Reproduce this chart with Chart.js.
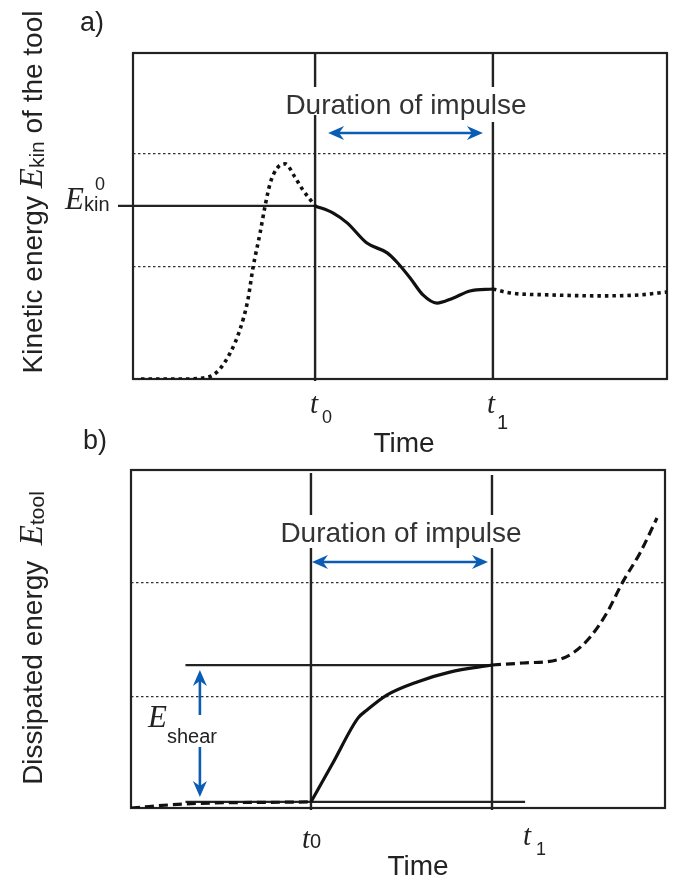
<!DOCTYPE html>
<html lang="en">
<head>
    <meta charset="UTF-8">
    <title>Kinetic and dissipated energy of the tool</title>
    <script src="https://cdn.jsdelivr.net/npm/chart.js"></script>
    <style>
        body { margin: 0; background: #fff; }
        canvas { position: absolute; left: 0; }
        #chartA { top: 0; }
        #chartB { top: 395px; }
    </style>
</head>
<body>
    <canvas id="chartA" width="676" height="470"></canvas>
    <canvas id="chartB" width="676" height="486"></canvas>
    <script>
        // a) kinetic energy of the tool (time and energy in % of the axis range)
        var kinTimeRise = [1.5, 8.8, 13.1, 15.7, 18.2, 20.0, 21.5, 22.5, 23.8, 24.7, 25.7, 27.0, 28.5, 30.3, 31.8, 34.1];
        var kinRise = [0, 0, 0.3, 2.1, 8.0, 15.0, 24.2, 34.4, 44.8, 52.8, 60.1, 64.7, 66.0, 62.0, 58.0, 53.1];
        var kinTimeImpulse = [34.1, 37.5, 40.1, 43.8, 47.6, 49.4, 51.9, 54.3, 56.9, 59.9, 63.1, 67.4];
        var kinImpulse = [53.1, 50.9, 47.9, 41.7, 38.7, 35.9, 31.0, 25.8, 23.3, 24.8, 27.0, 27.6];
        var kinTimeAfter = [67.4, 70.6, 78.1, 87.5, 94.9, 100];
        var kinAfter = [27.6, 26.4, 25.8, 25.5, 25.8, 26.7];
        var kinRefLevels = [34.4, 69.0];
        var kinT0 = 34.1, kinT1 = 67.4, kinE0 = 53.1;

        // b) dissipated energy
        var dissTimeBefore = [0, 10.1, 33.7];
        var dissBefore = [0, 1.2, 1.8];
        var dissTimeImpulse = [33.7, 37.8, 42.5, 44.2, 47.9, 53.6, 59.7, 67.6];
        var dissImpulse = [1.8, 13.3, 26.6, 29.0, 33.4, 37.3, 40.2, 42.3];
        var dissTimeAfter = [67.6, 73.4, 79.8, 82.8, 86.0, 89.1, 92.1, 95.3, 98.5];
        var dissAfter = [42.3, 42.9, 43.8, 45.9, 50.6, 57.7, 66.9, 75.4, 85.8];
        var dissRefLevels = [33.1, 66.6];
        var dissT0 = 33.7, dissT1 = 67.6;
        var shearTop = 42.3, shearBase = 1.8;
        var shearLevelStart = 10.2, shearBaseEnd = 73.8, shearArrowTime = 12.9;

        var SANS = '"Liberation Sans", Arial, sans-serif';
        var SERIF = '"Liberation Serif", "Times New Roman", serif';
        var INK = '#222';
        var BLUE = '#0a5db5';

        function points(xs, ys) {
            return xs.map(function (x, i) { return { x: x, y: ys[i] }; });
        }

        // draw a row of text pieces [text, font, dy] starting / centred at x
        function textRun(ctx, x, y, parts, align) {
            var total = 0;
            parts.forEach(function (p) { ctx.font = p[1]; total += ctx.measureText(p[0]).width; });
            var cx = align === 'center' ? x - total / 2 : (align === 'right' ? x - total : x);
            ctx.textAlign = 'left';
            ctx.textBaseline = 'alphabetic';
            parts.forEach(function (p) {
                ctx.font = p[1];
                ctx.fillText(p[0], cx, y + (p[2] || 0));
                cx += ctx.measureText(p[0]).width;
            });
        }

        function line(ctx, x1, y1, x2, y2, width, color) {
            ctx.save();
            ctx.strokeStyle = color || INK;
            ctx.lineWidth = width || 2;
            ctx.beginPath();
            ctx.moveTo(x1, y1);
            ctx.lineTo(x2, y2);
            ctx.stroke();
            ctx.restore();
        }

        function arrowHead(ctx, x, y, angle) {
            ctx.save();
            ctx.translate(x, y);
            ctx.rotate(angle);
            ctx.fillStyle = BLUE;
            ctx.beginPath();
            ctx.moveTo(0, 0);
            ctx.lineTo(-16, -7);
            ctx.lineTo(-11, 0);
            ctx.lineTo(-16, 7);
            ctx.closePath();
            ctx.fill();
            ctx.restore();
        }

        function frame(chart) {
            var a = chart.chartArea, ctx = chart.ctx;
            ctx.save();
            ctx.strokeStyle = INK;
            ctx.lineWidth = 2.2;
            ctx.strokeRect(a.left, a.top, a.right - a.left, a.bottom - a.top);
            ctx.restore();
        }

        function verticalWithGap(ctx, x, top, bottom, gapTop, gapBottom) {
            line(ctx, x, top, x, gapTop, 2.4);
            line(ctx, x, gapBottom, x, bottom, 2.4);
        }

        function yTitle(ctx, x, y, parts) {
            ctx.save();
            ctx.translate(x, y);
            ctx.rotate(-Math.PI / 2);
            textRun(ctx, 0, 0, parts, 'center');
            ctx.restore();
        }

        function baseOptions(refLevels, pad) {
            return {
                responsive: false,
                animation: false,
                layout: { padding: pad },
                plugins: { legend: { display: false }, tooltip: { enabled: false } },
                elements: { point: { radius: 0 } },
                scales: {
                    x: { type: 'linear', min: 0, max: 100, display: false },
                    y: {
                        min: 0, max: 100,
                        afterBuildTicks: function (scale) {
                            scale.ticks = refLevels.map(function (v) { return { value: v }; });
                        },
                        ticks: { display: false },
                        grid: { drawTicks: false, color: '#333', lineWidth: 1.2 },
                        border: { display: false, dash: [2.5, 2.5] }
                    }
                }
            };
        }

        function curve(data, style) {
            var ds = {
                data: data,
                borderColor: '#111',
                borderWidth: 3.2,
                cubicInterpolationMode: 'monotone',
                fill: false
            };
            if (style === 'dotted') { ds.borderDash = [3.5, 4]; ds.borderWidth = 3.6; }
            if (style === 'dashed') { ds.borderDash = [9, 5]; }
            return ds;
        }

        // ---------- a) ----------
        var optsA = baseOptions(kinRefLevels, { left: 133, top: 53, right: 9, bottom: 91 });
        new Chart(document.getElementById('chartA'), {
            type: 'line',
            data: {
                datasets: [
                    curve(points(kinTimeRise, kinRise), 'dotted'),
                    curve(points(kinTimeImpulse, kinImpulse), 'solid'),
                    curve(points(kinTimeAfter, kinAfter), 'dotted')
                ]
            },
            options: optsA,
            plugins: [{
                id: 'panelA',
                beforeDatasetsDraw: function (chart) {
                    var ctx = chart.ctx, a = chart.chartArea, xs = chart.scales.x, ys = chart.scales.y;
                    var textBase = a.top + 61;
                    verticalWithGap(ctx, xs.getPixelForValue(kinT0), a.top, a.bottom + 2, textBase - 27, textBase + 1);
                    verticalWithGap(ctx, xs.getPixelForValue(kinT1), a.top, a.bottom + 1, textBase - 27, textBase + 8);
                    line(ctx, a.left - 15, ys.getPixelForValue(kinE0), xs.getPixelForValue(kinT0), ys.getPixelForValue(kinE0), 2.2);
                    frame(chart);
                },
                afterDatasetsDraw: function (chart) {
                    var ctx = chart.ctx, a = chart.chartArea, xs = chart.scales.x, ys = chart.scales.y;
                    var x0 = xs.getPixelForValue(kinT0), x1 = xs.getPixelForValue(kinT1);
                    ctx.save();
                    ctx.fillStyle = INK;
                    textRun(ctx, 80, a.top - 22, [['a)', '27px ' + SANS]], 'left');
                    yTitle(ctx, 42, (a.top + a.bottom) / 2 - 24, [
                        ['Kinetic energy ', '28px ' + SANS],
                        ['E', 'italic 33px ' + SERIF],
                        ['kin', '21px ' + SANS, 2],
                        [' of the tool', '28px ' + SANS]
                    ]);
                    var e0 = ys.getPixelForValue(kinE0);
                    textRun(ctx, 65, e0 + 3, [['E', 'italic 31px ' + SERIF]], 'left');
                    textRun(ctx, 84, e0 + 5, [['kin', '20px ' + SANS]], 'left');
                    textRun(ctx, 95, e0 - 16, [['0', '18px ' + SANS]], 'left');
                    textRun(ctx, x0 - 5, a.bottom + 34, [['t', 'italic 29px ' + SERIF]], 'left');
                    textRun(ctx, x0 + 7, a.bottom + 44, [['0', '18px ' + SANS]], 'left');
                    textRun(ctx, x1 - 6, a.bottom + 34, [['t', 'italic 29px ' + SERIF]], 'left');
                    textRun(ctx, x1 + 4, a.bottom + 50, [['1', '20px ' + SANS]], 'left');
                    textRun(ctx, 404, a.bottom + 73, [['Time', '28px ' + SANS]], 'center');
                    ctx.fillStyle = '#333';
                    textRun(ctx, 406, a.top + 61, [['Duration of impulse', '28px ' + SANS]], 'center');
                    var ay = a.top + 80;
                    line(ctx, x0 + 20, ay, x1 - 20, ay, 2.6, BLUE);
                    arrowHead(ctx, x0 + 13, ay, Math.PI);
                    arrowHead(ctx, x1 - 10, ay, 0);
                    ctx.restore();
                }
            }]
        });

        // ---------- b) ----------
        var optsB = baseOptions(dissRefLevels, { left: 131, top: 75, right: 11, bottom: 73 });
        new Chart(document.getElementById('chartB'), {
            type: 'line',
            data: {
                datasets: [
                    curve(points(dissTimeBefore, dissBefore), 'dashed'),
                    curve(points(dissTimeImpulse, dissImpulse), 'solid'),
                    curve(points(dissTimeAfter, dissAfter), 'dashed')
                ]
            },
            options: optsB,
            plugins: [{
                id: 'panelB',
                beforeDatasetsDraw: function (chart) {
                    var ctx = chart.ctx, a = chart.chartArea, xs = chart.scales.x, ys = chart.scales.y;
                    var textBase = a.top + 72;
                    verticalWithGap(ctx, xs.getPixelForValue(dissT0), a.top + 3, a.bottom + 2, textBase - 27, textBase + 6);
                    verticalWithGap(ctx, xs.getPixelForValue(dissT1), a.top + 5, a.bottom + 2, textBase - 27, textBase + 6);
                    var yt = ys.getPixelForValue(shearTop), yb = ys.getPixelForValue(shearBase);
                    line(ctx, xs.getPixelForValue(shearLevelStart), yt, xs.getPixelForValue(dissT1), yt, 2.2);
                    line(ctx, xs.getPixelForValue(shearLevelStart), yb, xs.getPixelForValue(shearBaseEnd), yb, 2.2);
                    frame(chart);
                },
                afterDatasetsDraw: function (chart) {
                    var ctx = chart.ctx, a = chart.chartArea, xs = chart.scales.x, ys = chart.scales.y;
                    var x0 = xs.getPixelForValue(dissT0), x1 = xs.getPixelForValue(dissT1);
                    ctx.save();
                    ctx.fillStyle = INK;
                    textRun(ctx, 83, a.top - 21, [['b)', '27px ' + SANS]], 'left');
                    yTitle(ctx, 42, (a.top + a.bottom) / 2 - 1, [
                        ['Dissipated energy  ', '28px ' + SANS],
                        ['E', 'italic 33px ' + SERIF],
                        ['tool', '21px ' + SANS, 2]
                    ]);
                    textRun(ctx, x0 - 9, a.bottom + 40, [['t', 'italic 29px ' + SERIF], ['0', '20px ' + SANS]], 'left');
                    textRun(ctx, x1 + 31, a.bottom + 37, [['t', 'italic 29px ' + SERIF]], 'left');
                    textRun(ctx, x1 + 44, a.bottom + 47, [['1', '18px ' + SANS]], 'left');
                    textRun(ctx, 418, a.bottom + 67, [['Time', '28px ' + SANS]], 'center');

                    var yt = ys.getPixelForValue(shearTop), yb = ys.getPixelForValue(shearBase);
                    textRun(ctx, a.left + 17, yt + 62, [['E', 'italic 31px ' + SERIF]], 'left');
                    textRun(ctx, a.left + 36, yt + 78, [['shear', '20px ' + SANS]], 'left');

                    ctx.fillStyle = '#333';
                    textRun(ctx, 401, a.top + 72, [['Duration of impulse', '28px ' + SANS]], 'center');

                    var ay = a.top + 92;
                    line(ctx, x0 + 10, ay, x1 - 14, ay, 2.6, BLUE);
                    arrowHead(ctx, x0 + 1, ay, Math.PI);
                    arrowHead(ctx, x1 - 4, ay, 0);

                    var sx = xs.getPixelForValue(shearArrowTime);
                    line(ctx, sx, yt + 14, sx, yt + 50, 2.6, BLUE);
                    line(ctx, sx, yt + 82, sx, yb - 14, 2.6, BLUE);
                    arrowHead(ctx, sx, yt + 5, -Math.PI / 2);
                    arrowHead(ctx, sx, yb - 5, Math.PI / 2);
                    ctx.restore();
                }
            }]
        });
    </script>
</body>
</html>
